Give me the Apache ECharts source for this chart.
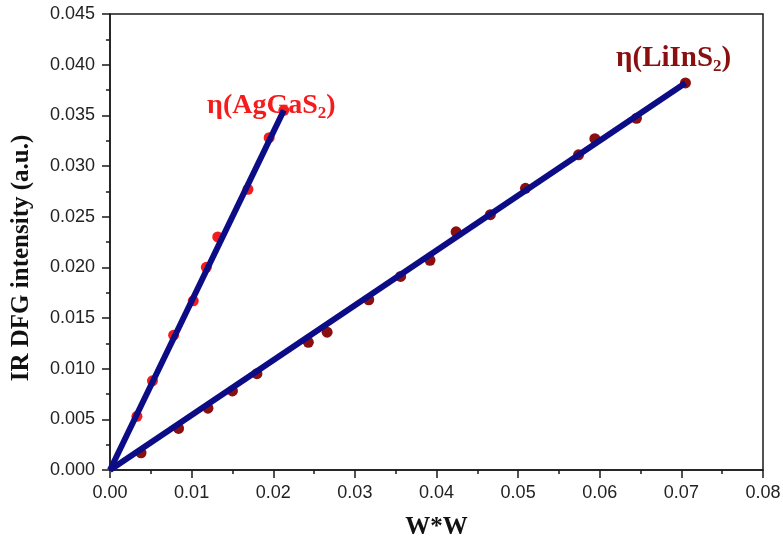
<!DOCTYPE html>
<html>
<head>
<meta charset="utf-8">
<script src="https://cdn.jsdelivr.net/npm/echarts@6/dist/echarts.min.js"></script>
<style>
  html, body { margin: 0; padding: 0; background: #fff; }
  #chart { width: 783px; height: 546px; }
</style>
</head>
<body>
<div id="chart"></div>
<script>
// Measured DFG intensity versus W*W for the two crystals
const agGaS2Points = [
  [0.0033, 0.0053], [0.0052, 0.0088], [0.0078, 0.0133], [0.0102, 0.0167],
  [0.0118, 0.0200], [0.0132, 0.0230], [0.0169, 0.0277], [0.0195, 0.0328],
  [0.0213, 0.0355]
];
const liInS2Points = [
  [0.0038, 0.0017], [0.0084, 0.0041], [0.0120, 0.0061], [0.0150, 0.0078],
  [0.0180, 0.0095], [0.0243, 0.0126], [0.0266, 0.0136], [0.0317, 0.0168],
  [0.0356, 0.0191], [0.0392, 0.0207], [0.0424, 0.0235], [0.0466, 0.0252],
  [0.0509, 0.0278], [0.0574, 0.0311], [0.0594, 0.0327], [0.0645, 0.0347],
  [0.0705, 0.0382]
];
// Linear fits through the origin
const agGaS2Fit = [[0, 0], [0.0213, 0.0355]];
const liInS2Fit = [[0, 0], [0.0705, 0.0382]];

const xTickDigits = 2;
const yTickDigits = 3;

const chart = echarts.init(document.getElementById('chart'), null, { renderer: 'canvas' });

const serif = '"Liberation Serif", "Times New Roman", serif';
const sans = '"Liberation Sans", Arial, sans-serif';
const ink = '#1a1a1a';

function axisStyle() {
  return {
    axisLine: { lineStyle: { color: ink, width: 1.5 } },
    axisTick: { inside: false, length: 8, lineStyle: { color: ink, width: 1.5 } },
    minorTick: { show: true, splitNumber: 2, length: 4, lineStyle: { color: ink, width: 1.5 } },
    splitLine: { show: false }
  };
}

chart.setOption({
  animation: false,
  backgroundColor: '#fff',
  grid: {
    left: 110, right: 20, top: 14, bottom: 76,
    outerBoundsMode: 'none', containLabel: false,
    show: true, borderColor: ink, borderWidth: 1.5, backgroundColor: 'transparent'
  },
  xAxis: Object.assign({
    type: 'value', min: 0, max: 0.08, interval: 0.01,
    name: 'W*W', nameLocation: 'middle', nameGap: 45,
    nameTextStyle: { fontFamily: serif, fontWeight: 'bold', fontSize: 25, color: '#111' },
    axisLabel: { fontFamily: sans, fontSize: 18, color: '#222', margin: 14,
      formatter: v => v.toFixed(xTickDigits) }
  }, axisStyle()),
  yAxis: Object.assign({
    type: 'value', min: 0, max: 0.045, interval: 0.005,
    axisLabel: { fontFamily: sans, fontSize: 18, color: '#222', margin: 15,
      formatter: v => v.toFixed(yTickDigits) }
  }, axisStyle()),
  series: [
    {
      name: 'AgGaS2', type: 'scatter', data: agGaS2Points,
      symbol: 'circle', symbolSize: 11,
      itemStyle: { color: '#f41c1c', opacity: 1 }, z: 2
    },
    {
      name: 'LiInS2', type: 'scatter', data: liInS2Points,
      symbol: 'circle', symbolSize: 11,
      itemStyle: { color: '#8a0f0f', opacity: 1 }, z: 2
    },
    {
      name: 'AgGaS2 fit', type: 'line', data: agGaS2Fit, showSymbol: false,
      lineStyle: { color: '#0c0c86', width: 6 }, z: 3
    },
    {
      name: 'LiInS2 fit', type: 'line', data: liInS2Fit, showSymbol: false,
      lineStyle: { color: '#0c0c86', width: 6 }, z: 3
    }
  ],
  graphic: [
    {
      // y-axis title
      type: 'text', x: 22, y: 258, rotation: Math.PI / 2,
      style: {
        text: 'IR DFG intensity (a.u.)', align: 'center', verticalAlign: 'middle',
        fontFamily: serif, fontWeight: 'bold', fontSize: 25, fill: '#111'
      }
    },
    {
      type: 'text', left: 207, top: 92,
      style: {
        text: '{t|η(AgGaS}{s|2}{t|)}',
        rich: {
          t: { fontFamily: serif, fontWeight: 'bold', fontSize: 28, fill: '#f41c1c' },
          s: { fontFamily: serif, fontWeight: 'bold', fontSize: 17, fill: '#f41c1c', padding: [16, 0, 0, 0] }
        }
      }
    },
    {
      type: 'text', left: 616, top: 44,
      style: {
        text: '{t|η(LiInS}{s|2}{t|)}',
        rich: {
          t: { fontFamily: serif, fontWeight: 'bold', fontSize: 29, fill: '#8a0f0f' },
          s: { fontFamily: serif, fontWeight: 'bold', fontSize: 17, fill: '#8a0f0f', padding: [16, 0, 0, 0] }
        }
      }
    }
  ]
});
</script>
</body>
</html>
